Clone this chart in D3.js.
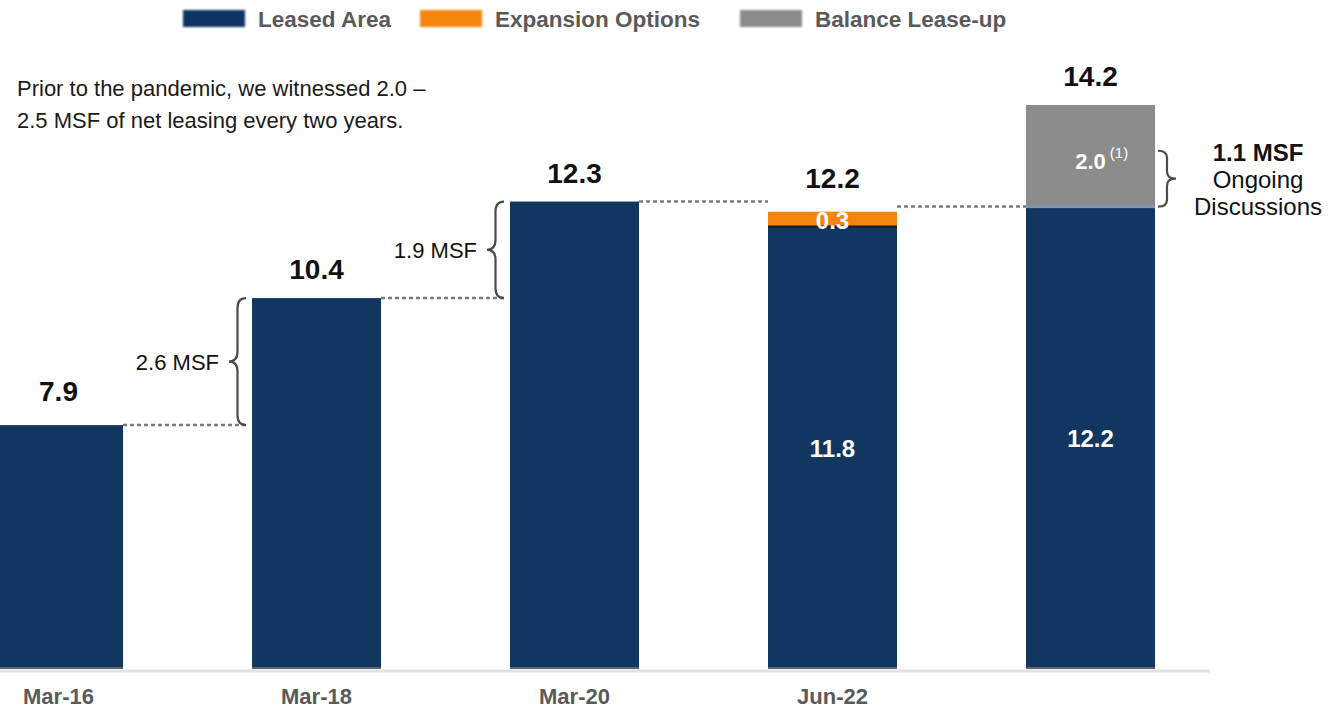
<!DOCTYPE html>
<html><head><meta charset="utf-8">
<script src="https://cdn.jsdelivr.net/npm/d3@7"></script>
<style>
body{margin:0;background:#fff;}
svg{display:block;font-family:"Liberation Sans",Arial,Helvetica,sans-serif;}
</style>
</head><body>
<svg id="chart" width="1332" height="710"></svg>
<script>
// Leased area build-up, million square feet
const categories = ["Mar-16", "Mar-18", "Mar-20", "Jun-22", "Pro Forma"];
const axisLabels = ["Mar-16", "Mar-18", "Mar-20", "Jun-22", ""];
const leased = [7.9, 10.4, 12.3, 11.8, 12.2];
const expansion = [0, 0, 0, 0.3, 0];
const balance = [0, 0, 0, 0, 2.0];
const totals = [7.9, 10.4, 12.3, 12.2, 14.2];
const seriesNames = ["Leased Area", "Expansion Options", "Balance Lease-up"];
const seriesColors = ["#11365f", "#f5850e", "#8b8b8b"];
const gapLabels = ["2.6 MSF", "1.9 MSF"];
const ongoing = 1.1;
const noteLines = ["Prior to the pandemic, we witnessed 2.0 \u2013", "2.5 MSF of net leasing every two years."];

const svg = d3.select("#chart");

const x = d3.scaleBand().domain(categories).range([-6, 1155]).paddingInner(0.5).paddingOuter(0);
const y = d3.scaleLinear().domain([3.1, 14.2]).range([669, 105]);
const base = y.domain()[0];

const rows = categories.map((c, i) => ({cat: c, s0: leased[i], s1: expansion[i], s2: balance[i]}));
const layers = d3.stack().keys(["s0", "s1", "s2"])(rows);

const defs = svg.append("defs");
defs.append("filter").attr("id", "soft").append("feGaussianBlur").attr("stdDeviation", 1.2);

// faint baseline
svg.append("line").attr("x1", 0).attr("x2", 1210)
  .attr("y1", y(base) + 2).attr("y2", y(base) + 2)
  .attr("stroke", "#e2e2e2").attr("stroke-width", 3);

// stacked bars
svg.append("g").selectAll("g").data(layers).join("g")
  .attr("fill", (d, i) => seriesColors[i])
  .selectAll("rect").data(d => d.filter(v => v[1] - v[0] > 0).map(v => ({v, cat: v.data.cat})))
  .join("rect")
  .attr("x", d => x(d.cat))
  .attr("width", x.bandwidth())
  .attr("y", d => y(d.v[1]))
  .attr("height", d => y(Math.max(d.v[0], base)) - y(d.v[1]));

const bx = i => x(categories[i]);
const bw = x.bandwidth();

// edges where a segment sits on top of the leased area
categories.forEach((c, i) => {
  if (expansion[i] > 0) {
    svg.append("rect").attr("x", x(c)).attr("width", bw)
      .attr("y", y(leased[i]) - 1.5).attr("height", 2.5).attr("fill", "#1c1f2e");
  }
  if (balance[i] > 0) {
    svg.append("rect").attr("x", x(c)).attr("width", bw)
      .attr("y", y(leased[i]) - 1.5).attr("height", 3).attr("fill", "#7f95b1");
  }
});

// darker bottom edge on the bars
svg.append("g").selectAll("rect").data(categories).join("rect")
  .attr("x", d => x(d)).attr("width", bw)
  .attr("y", y(base) - 2).attr("height", 2).attr("fill", "#5a6470");

// dashed connectors between consecutive tops
function dashed(x1, x2, yy) {
  svg.append("line").attr("x1", x1).attr("x2", x2).attr("y1", yy).attr("y2", yy)
    .attr("stroke", "#7a7a7a").attr("stroke-width", 2.5).attr("stroke-dasharray", "4,3");
}
dashed(bx(0) + bw, bx(1) - 6, y(leased[0]));
dashed(bx(1) + bw, bx(2) - 6, y(leased[1]));
dashed(bx(2) + bw, bx(3), y(leased[2]));
dashed(bx(3) + bw, bx(4), y(leased[4]));

// curly brace, dir -1 points left, +1 points right
function brace(x0, yTop, yBot, w, dir) {
  const ym = (yTop + yBot) / 2;
  const xm = x0 + dir * w * 0.5, xt = x0 + dir * w;
  const r1 = Math.min(10, (ym - yTop) * 0.25), r2 = Math.min(10, (yBot - ym) * 0.25);
  return `M${x0},${yTop} Q${xm},${yTop} ${xm},${yTop + r1} L${xm},${ym - r1} Q${xm},${ym} ${xt},${ym}` +
         ` Q${xm},${ym} ${xm},${ym + r2} L${xm},${yBot - r2} Q${xm},${yBot} ${x0},${yBot}`;
}
function drawBrace(x0, yTop, yBot, w, dir) {
  svg.append("path").attr("d", brace(x0, yTop, yBot, w, dir))
    .attr("fill", "none").attr("stroke", "#4a4a4a").attr("stroke-width", 2.2);
}
[[0, 1], [1, 2]].forEach(([a, b], k) => {
  const x0 = bx(b) - 6;
  const yTop = y(leased[b]), yBot = y(leased[a]);
  drawBrace(x0, yTop, yBot, 17, -1);
  svg.append("text").attr("x", x0 - 27).attr("y", (yTop + yBot) / 2 + 8)
    .attr("text-anchor", "end").attr("font-size", 22).attr("fill", "#111")
    .text(gapLabels[k]);
});
{
  const x0 = bx(4) + bw + 3;
  const yTop = y(leased[4] + ongoing), yBot = y(leased[4]);
  drawBrace(x0, yTop, yBot, 18, 1);
  const tx = 1258;
  const t = svg.append("text").attr("text-anchor", "middle").attr("fill", "#111").attr("font-size", 24);
  t.append("tspan").attr("x", tx).attr("y", 161).attr("font-weight", "bold").text(ongoing.toFixed(1) + " MSF");
  t.append("tspan").attr("x", tx).attr("y", 188).text("Ongoing");
  t.append("tspan").attr("x", tx).attr("y", 215).text("Discussions");
}

// total labels
svg.append("g").selectAll("text").data(categories).join("text")
  .attr("x", d => x(d) + bw / 2)
  .attr("y", (d, i) => y(totals[i]) - (i === 0 ? 24 : 19))
  .attr("text-anchor", "middle").attr("font-weight", "bold").attr("font-size", 28).attr("fill", "#111")
  .text((d, i) => totals[i].toFixed(1));

// segment labels
function segLabel(cx, yy, v, size) {
  return svg.append("text").attr("x", cx).attr("y", yy)
    .attr("text-anchor", "middle").attr("font-weight", "bold").attr("font-size", size).attr("fill", "#fff")
    .text(v.toFixed(1));
}
categories.forEach((c, i) => {
  const cx = x(c) + bw / 2;
  if (expansion[i] > 0 || balance[i] > 0) {
    segLabel(cx, (y(base) + y(leased[i])) / 2 + 9, leased[i], 24);
  }
  if (expansion[i] > 0) {
    segLabel(cx, (y(leased[i]) + y(leased[i] + expansion[i])) / 2 + 10, expansion[i], 24);
  }
  if (balance[i] > 0) {
    const t = segLabel(cx, (y(leased[i]) + y(leased[i] + balance[i])) / 2 + 13, balance[i], 22);
    const half = t.node().getComputedTextLength() / 2;
    svg.append("text").attr("x", cx + half + 4).attr("y", (y(leased[i]) + y(leased[i] + balance[i])) / 2 + 2)
      .attr("font-size", 15).attr("fill", "#fff").text("(1)");
  }
});

// category axis
const xAxis = d3.axisBottom(x).tickSize(0).tickFormat((d, i) => axisLabels[i]);
const ax = svg.append("g").attr("transform", `translate(0,${y(base)})`).call(xAxis);
ax.select(".domain").remove();
ax.selectAll("text").attr("dy", 0).attr("y", 35)
  .attr("font-family", "Liberation Sans, Arial, sans-serif")
  .attr("font-weight", "bold").attr("font-size", 22).attr("fill", "#5a5a5a");

// note
const note = svg.append("text").attr("font-size", 22).attr("fill", "#1a1a1a");
noteLines.forEach((l, i) => note.append("tspan").attr("x", 17).attr("y", 96 + i * 32).text(l));

// legend
const legendX = [183, 420, 740];
const leg = svg.append("g");
seriesNames.forEach((n, i) => {
  leg.append("rect").attr("x", legendX[i]).attr("y", 10).attr("width", 62).attr("height", 17)
    .attr("fill", seriesColors[i]).attr("filter", "url(#soft)");
  leg.append("text").attr("x", legendX[i] + 75).attr("y", 27)
    .attr("font-weight", "bold").attr("font-size", 22.5).attr("fill", "#5a5a5a").text(n);
});
</script>
</body></html>
